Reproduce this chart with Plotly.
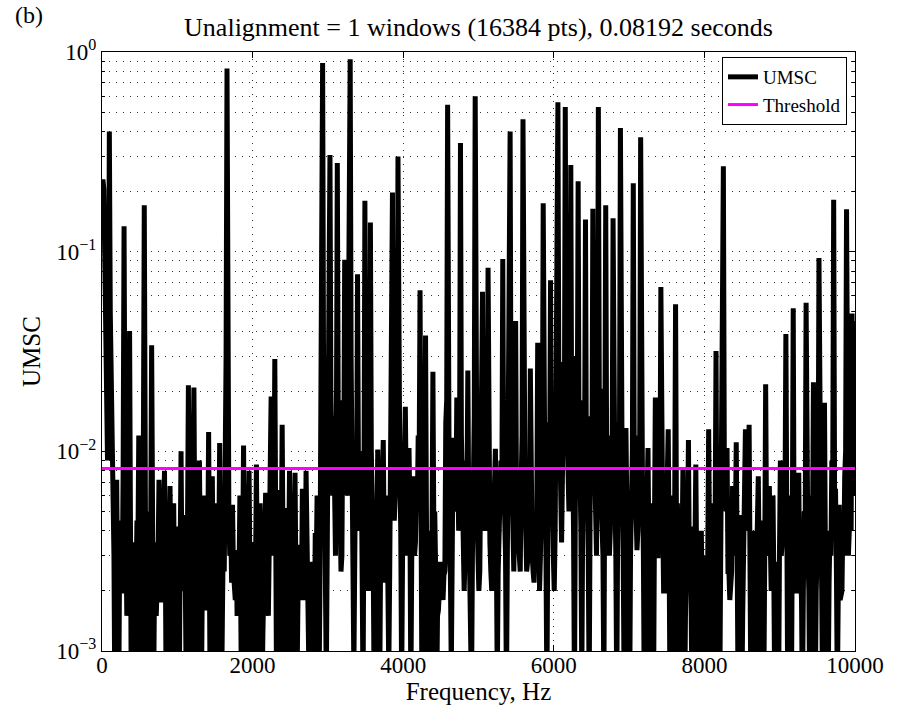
import numpy as np
import plotly.graph_objects as go

# Frequency resolution (Hz) of the spectrum: 1 / 0.08192 s
bin_hz = 1 / 0.08192

# UMSC values in units of 1e-3
# even frequency bins (0, 2, 4, ... x bin_hz)
umsc_even_milli = [
    200, 205, 60, 9, 400, 23, 7, 0.5, 7.2, 0.4,
    4.5, 2, 134, 2.5, 3, 40, 0.4, 3.5, 0.5, 4.5,
    12, 0.5, 4, 171, 0.6, 5, 0.8, 34, 0.5, 3.5,
    2, 7.2, 1.8, 3.5, 8, 0.4, 4.5, 6.7, 0.5, 5.5,
    0.6, 4.2, 0.5, 10, 2, 4.8, 0.4, 21.4, 0.5, 5,
    20.9, 0.6, 3.8, 9, 0.5, 6, 1.8, 4.5, 12.5, 0.3,
    7.5, 0.6, 5.5, 0.9, 11, 0.5, 4, 5.5, 826, 5,
    4.5, 5.4, 2.2, 3.2, 2, 6, 0.4, 10.7, 0.5, 6.8,
    8, 0.6, 3.5, 0.5, 8.6, 0.6, 5.5, 0.5, 2.8, 6.2,
    2, 4.8, 18.8, 3, 29, 0.5, 6.4, 0.6, 13.6, 0.5,
    5.2, 0.5, 8, 0.6, 5.8, 7.8, 0.6, 3.4, 2, 6.5,
    1.8, 8, 3.6, 0.4, 2.8, 0.5, 3.9, 6, 0.6, 12,
    880, 9, 0.7, 12, 305, 6, 15, 3, 278, 11,
    2.5, 18, 91, 7, 25, 920, 12, 0.8, 9, 77,
    4, 10, 0.6, 180, 5.5, 2, 140, 6, 0.7, 5.2,
    10.2, 0.5, 4.8, 11.4, 2.2, 6, 0.8, 9, 198, 4.5,
    14, 300, 8, 0.7, 6.5, 16.7, 3, 10.4, 0.6, 7.5,
    3, 6.2, 12, 64, 0.7, 5.5, 38, 0.5, 4, 0.6,
    25, 5, 0.5, 1.6, 2.8, 1.8, 2.4, 14, 544, 3,
    0.8, 11.7, 5, 18.6, 4, 350, 7, 2, 9, 25.4,
    3, 0.6, 12, 600, 5, 2, 8, 63, 4, 10,
    83, 3.5, 2, 6, 10.3, 0.7, 4.5, 9, 92, 5,
    0.6, 8, 400, 6, 2.5, 45, 4, 2.5, 7, 460,
    9, 2.5, 3.5, 26, 3, 2.2, 4.5, 35, 2, 11,
    175, 5, 0.6, 14, 72, 6, 2, 20, 560, 9,
    3.5, 28, 530, 12, 5, 272, 10, 0.6, 30, 225,
    8, 0.7, 18, 145, 6, 0.6, 15, 164, 9, 3,
    530, 20, 4.5, 0.6, 171, 10, 3, 12, 147, 6.5,
    0.6, 14, 416, 6, 0.7, 13.1, 5, 0.5, 8, 220,
    12, 3.2, 9, 374, 6.5, 0.5, 4, 10.4, 0.6, 5.5,
    0.5, 18.6, 3, 7, 66.6, 4.5, 2, 5, 12.9, 0.5,
    6, 0.5, 54.5, 5.5, 0.4, 3.8, 8.2, 0.6, 5, 11.4,
    2.5, 0.5, 4.2, 8.6, 0.6, 1.8, 4, 0.6, 3, 0.5,
    12.9, 0.6, 5.5, 0.5, 31.8, 3, 0.5, 10, 268, 9,
    10.4, 2.5, 2, 6.7, 3, 11.1, 0.6, 4.8, 0.5, 3.5,
    12.9, 5, 13.6, 0.5, 4, 0.4, 2.5, 7.5, 0.5, 4.5,
    0.6, 21.7, 3, 6.7, 2, 6, 0.5, 2.8, 0.5, 9,
    3.5, 8.5, 38.7, 0.6, 6, 0.5, 52, 4, 2, 7.8,
    2.5, 0.5, 5, 55.5, 3, 0.5, 6, 22.2, 0.6, 4.5,
    93, 5, 0.5, 17.5, 3.5, 0.6, 4, 9, 182, 6.5,
    0.6, 5.4, 2, 4.5, 7.5, 163, 3, 10, 49, 8,
    45,
]
# odd frequency bins (1, 3, 5, ... x bin_hz)
umsc_odd_milli = [
    230, 90, 15, 25, 50, 9, 3, 2.5, 1.8, 2.2,
    2, 8, 10, 1.5, 5, 4, 1.8, 1.2, 2, 3,
    2.5, 1.5, 10, 12, 2, 1.6, 4, 5, 1.8, 1.5,
    3, 2.5, 1.8, 4, 2.5, 1.5, 3, 2.8, 2, 1.6,
    2.2, 1.5, 3, 2.5, 2, 1.8, 4, 3, 1.5, 4,
    3.5, 2, 3, 2.5, 1.8, 2, 1.6, 3, 2.5, 1.5,
    2.5, 2, 1.8, 3, 2.4, 1.5, 2.5, 30, 25, 3,
    2.2, 2.5, 1.8, 1.5, 2.2, 2, 3, 2.5, 2, 3,
    2.2, 1.5, 2, 2.5, 2, 1.8, 2.4, 1.2, 3, 2,
    1.5, 5, 4, 5, 4, 2, 2.5, 3, 3, 1.8,
    2, 2.5, 2, 1.8, 4, 2.2, 1.5, 2, 1.8, 2.5,
    2, 3, 1.5, 1.2, 1.5, 1, 2.5, 2.2, 1.8, 40,
    30, 5, 3, 15, 20, 6, 4, 12, 15, 5,
    3, 8, 10, 6, 35, 30, 5, 3, 6, 8,
    5, 4, 6, 12, 3, 5, 10, 3, 2.5, 4,
    3, 2.5, 5, 3.5, 2.5, 3, 2.5, 12, 10, 6,
    12, 14, 4, 3, 5, 6, 4, 5, 3, 4,
    3.5, 5, 8, 6, 3, 6, 4, 2, 2.5, 4,
    4, 2.5, 1.5, 2, 2.2, 1.8, 2.5, 18, 12, 2.5,
    3, 6, 5, 8, 10, 12, 4, 3, 6, 5,
    2.5, 3, 15, 20, 3, 2.5, 6, 5, 4, 8,
    6, 2.5, 3, 5, 3.5, 2.5, 4, 6, 8, 3,
    3, 10, 12, 4, 5, 5, 3, 2.5, 12, 15,
    4, 2.8, 4, 4, 2.5, 3, 5, 4, 3, 8,
    10, 3, 4, 8, 6, 3, 4, 15, 22, 5,
    8, 12, 20, 6, 10, 12, 4, 6, 12, 10,
    4, 5, 10, 8, 3, 5, 8, 10, 5, 12,
    20, 6, 3, 8, 10, 5, 4, 9, 8, 3,
    4, 12, 15, 3, 4, 5, 2.5, 3, 10, 10,
    5, 4, 12, 12, 3, 2, 5, 3, 2.5, 2,
    4, 3, 3, 6, 5, 2, 2.5, 4, 3, 2,
    2.5, 5, 4, 2.5, 2, 3, 2.5, 2, 3.5, 2.5,
    1.5, 2, 3, 2.5, 1.2, 2, 1.8, 1.5, 1.2, 3,
    3, 2, 2.5, 4, 3, 1.5, 2.5, 12, 10, 5,
    2.5, 1.8, 2.5, 3, 4, 3, 2, 2.5, 1.5, 3,
    4, 5, 3, 2, 1.8, 1.5, 3, 2.5, 2, 1.8,
    3, 4, 3, 2.5, 2.5, 2, 1.5, 1.8, 3, 3,
    4, 5, 3, 2.5, 2.5, 4, 3, 2, 2.5, 2.2,
    1.8, 2, 4, 4, 2, 2.5, 4, 3, 2, 5,
    6, 2, 2.5, 3, 2, 2.2, 3, 8, 6, 2.5,
    2, 1.8, 2, 3, 10, 5, 4, 4, 6, 6,
]

threshold_value = 0.0082
threshold_freq = [0, 10000]

x_tick_vals = [0, 2000, 4000, 6000, 8000, 10000]
x_tick_text = ["0", "2000", "4000", "6000", "8000", "10000"]
y_tick_vals = [1e-3, 1e-2, 1e-1, 1e0]
y_tick_text = ["10<sup>−3</sup>", "10<sup>−2</sup>", "10<sup>−1</sup>", "10<sup>0</sup>"]

title_text = "Unalignment = 1 windows (16384 pts), 0.08192 seconds"

n_bins = len(umsc_even_milli) + len(umsc_odd_milli)
umsc = np.empty(n_bins)
umsc[0::2] = np.array(umsc_even_milli) / 1000.0
umsc[1::2] = np.array(umsc_odd_milli) / 1000.0
freq = np.arange(n_bins) * bin_hz

FONT = "Liberation Serif, Times New Roman, serif"
W, H = 902, 713
ML, MR, MT, MB = 102, 47, 52, 62
plot_h = H - MT - MB
plot_w = W - ML - MR

fig = go.Figure()
fig.add_trace(go.Scatter(x=freq, y=umsc, mode="lines", name="UMSC",
                         line=dict(color="black", width=5)))
fig.add_trace(go.Scatter(x=threshold_freq, y=[threshold_value] * len(threshold_freq),
                         mode="lines", name="Threshold",
                         line=dict(color="#ff00ff", width=3)))

grid_dash = "1px,6px"
fig.update_layout(
    width=W, height=H,
    margin=dict(l=ML, r=MR, t=MT, b=MB),
    paper_bgcolor="white", plot_bgcolor="white",
    font=dict(family=FONT, size=23, color="black"),
    title=dict(text=title_text, x=0.5, xref="paper", xanchor="center",
               y=1 - 27 / H, yref="container", yanchor="middle",
               font=dict(family=FONT, size=26, color="black")),
    showlegend=True,
    legend=dict(x=(847 - ML) / plot_w, y=(H - MB - 57) / plot_h,
                xanchor="right", yanchor="top",
                bgcolor="white", bordercolor="black", borderwidth=1,
                font=dict(family=FONT, size=19, color="black"),
                tracegroupgap=0, itemwidth=30),
    annotations=[dict(text="(b)", xref="paper", yref="paper",
                      x=(13 - ML) / plot_w, y=(H - MB - 15) / plot_h,
                      xanchor="left", yanchor="middle",
                      showarrow=False, font=dict(family=FONT, size=24, color="black"))],
)
fig.update_xaxes(
    range=[0, 10000], tickmode="array", tickvals=x_tick_vals, ticktext=x_tick_text,
    showgrid=True, gridcolor="#333", griddash=grid_dash, gridwidth=1,
    showline=True, linecolor="black", linewidth=1, mirror="allticks",
    ticks="inside", ticklen=6, tickcolor="black", ticklabelstandoff=-7,
    zeroline=False, title=dict(text="Frequency, Hz", standoff=0, font=dict(size=25)),
    tickfont=dict(size=23),
)
fig.update_yaxes(
    type="log", range=[-3, 0], tickmode="array", tickvals=y_tick_vals, ticktext=y_tick_text,
    showgrid=True, gridcolor="#333", griddash=grid_dash, gridwidth=1,
    showline=True, linecolor="black", linewidth=1, mirror="allticks",
    ticks="inside", ticklen=6, tickcolor="black",
    minor=dict(dtick="D1", ticks="inside", ticklen=3, tickcolor="black",
               showgrid=True, gridcolor="#333", griddash=grid_dash, gridwidth=1),
    zeroline=False, title=dict(text="UMSC", standoff=8, font=dict(size=25)),
    tickfont=dict(size=23),
)

fig.write_html("out.html", config={"displayModeBar": False},
               post_script="document.body.style.margin='0px';")
